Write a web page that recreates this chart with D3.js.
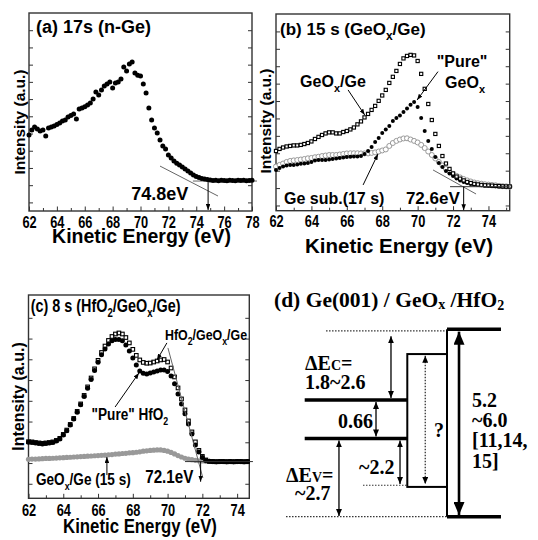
<!DOCTYPE html>
<html lang="en">
<head>
<meta charset="utf-8">
<style>
    body { margin: 0; background: #fff; }
    svg text { font-weight: bold; fill: #000; }
</style>
</head>
<body>
<svg width="538" height="540"></svg>
<script src="https://cdn.jsdelivr.net/npm/d3@7"></script>
<script>
// ---------- data ----------
// (a) 17 s, n-Ge
var energyA = [62.0,62.2,62.4,62.6,62.8,63.0,63.2,63.4,63.6,63.8,64.0,64.2,64.4,64.6,64.8,65.0,65.2,65.4,65.6,65.8,
    66.0,66.2,66.4,66.6,66.8,67.0,67.2,67.4,67.6,67.8,68.0,68.2,68.4,68.6,68.8,69.0,69.2,69.4,69.6,69.8,
    70.0,70.2,70.4,70.6,70.8,71.0,71.2,71.4,71.6,71.8,72.0,72.2,72.4,72.6,72.8,73.0,73.2,73.4,73.6,73.8,
    74.0,74.2,74.4,74.6,74.8,75.0,75.2,75.4,75.6,75.8,76.0,76.2,76.4,76.6,76.8,77.0,77.2,77.4,77.6,77.8,78.0];
var nGe = [3.91,4.20,4.38,4.26,4.15,4.20,3.86,4.32,4.38,4.44,
    4.52,4.61,4.73,4.79,4.96,5.05,5.13,4.84,5.42,5.48,
    5.56,5.66,5.77,6.01,6.41,6.24,6.53,6.76,6.88,6.99,
    6.64,6.93,6.99,7.17,7.86,7.63,8.04,8.15,7.51,7.39,
    7.34,6.88,6.35,5.48,4.79,4.32,4.03,3.62,3.28,3.10,
    2.75,2.58,2.40,2.28,2.17,2.05,1.94,1.82,1.70,1.59,
    1.50,1.45,1.39,1.36,1.33,1.30,1.27,1.29,1.26,1.28,
    1.27,1.25,1.28,1.27,1.26,1.28,1.27,1.29,1.26,1.27,1.28];

// (b) 15 s, GeOx/Ge
var energyB = [62.0,62.2,62.4,62.6,62.8,63.0,63.2,63.4,63.6,63.8,64.0,64.2,64.4,64.6,64.8,65.0,65.2,65.4,65.6,65.8,
    66.0,66.2,66.4,66.6,66.8,67.0,67.2,67.4,67.6,67.8,68.0,68.2,68.4,68.6,68.8,69.0,69.2,69.4,69.6,69.8,
    70.0,70.2,70.4,70.6,70.8,71.0,71.2,71.4,71.6,71.8,72.0,72.2,72.4,72.6,72.8,73.0,73.2,73.4,73.6,73.8,
    74.0,74.2,74.4,74.6,74.8,75.0,75.2];
var geoxGe = [3.13,3.25,3.33,3.39,3.42,3.45,3.45,3.48,3.53,3.59,
    3.68,3.82,3.94,4.05,4.14,4.20,4.20,4.14,4.14,4.22,
    4.28,4.37,4.48,4.66,4.83,5.06,5.26,5.49,5.72,6.01,
    6.32,6.64,7.04,7.39,7.73,8.13,8.45,8.59,8.65,8.62,
    8.30,7.56,6.70,5.83,4.91,4.11,3.42,2.84,2.41,2.10,
    1.84,1.66,1.54,1.44,1.35,1.29,1.24,1.21,1.18,1.16,
    1.15,1.14,1.12,1.11,1.10,1.09,1.09];
var pureGeox = [2.04,2.16,2.24,2.30,2.33,2.33,2.36,2.39,2.41,2.44,
    2.50,2.59,2.61,2.61,2.61,2.64,2.67,2.70,2.73,2.76,
    2.79,2.80,2.82,2.82,2.84,2.96,3.13,3.36,3.65,3.88,
    4.17,4.37,4.57,4.86,5.03,5.17,5.37,5.57,5.78,5.95,
    5.66,5.03,4.28,3.71,3.25,2.79,2.44,2.21,1.98,1.84,
    1.70,1.55,1.44,1.35,1.29,1.24,1.21,1.18,1.16,1.14,
    1.13,1.11,1.10,1.09,1.08,1.08,1.07];
var geSub = [2.24,2.33,2.41,2.50,2.56,2.59,2.61,2.64,2.67,2.71,
    2.73,2.77,2.80,2.84,2.87,2.90,2.90,2.90,2.93,2.96,
    2.99,3.00,3.00,3.00,2.99,2.99,2.99,3.02,3.05,3.10,
    3.16,3.22,3.42,3.59,3.71,3.79,3.85,3.86,3.79,3.71,
    3.62,3.48,3.30,3.10,2.90,2.70,2.50,2.30,2.10,1.95,
    1.81,1.70,1.61,1.52,1.44,1.38,1.32,1.28,1.25,1.22,
    1.20,1.18,1.16,1.13,1.11,1.10,1.08];

// (c) 8 s, HfO2/GeOx/Ge
var energyC = [62.0,62.2,62.4,62.6,62.8,63.0,63.2,63.4,63.6,63.8,64.0,64.2,64.4,64.6,64.8,65.0,65.2,65.4,65.6,65.8,
    66.0,66.2,66.4,66.6,66.8,67.0,67.2,67.4,67.6,67.8,68.0,68.2,68.4,68.6,68.8,69.0,69.2,69.4,69.6,69.8,
    70.0,70.2,70.4,70.6,70.8,71.0,71.2,71.4,71.6,71.8,72.0,72.2,72.4,72.6,72.8,73.0,73.2,73.4,73.6,73.8,
    74.0,74.2,74.4,74.6];
var hfoStack = [2.03,2.02,1.99,1.97,1.95,1.97,1.99,2.02,2.09,2.19,
    2.38,2.59,2.86,3.15,3.49,3.85,4.26,4.67,5.10,5.54,
    5.95,6.33,6.64,6.91,7.10,7.22,7.27,7.22,7.05,6.79,
    6.48,6.19,5.97,5.85,5.81,5.82,5.87,5.92,5.97,5.99,
    5.87,5.58,5.15,4.62,4.09,3.56,3.03,2.50,2.02,1.61,
    1.32,1.15,1.08,1.07,1.06,1.07,1.07,1.06,1.07,1.06,
    1.07,1.07,1.06,1.07];
var pureHfo = [2.00,1.99,1.96,1.94,1.92,1.94,1.96,1.99,2.06,2.16,
    2.35,2.56,2.83,3.12,3.45,3.81,4.21,4.61,5.03,5.46,
    5.86,6.22,6.50,6.74,6.89,6.96,6.96,6.89,6.69,6.40,
    6.06,5.73,5.44,5.33,5.29,5.34,5.39,5.44,5.49,5.49,
    5.41,5.20,4.82,4.33,3.85,3.37,2.88,2.40,1.87,1.53,
    1.27,1.12,1.08,1.07,1.06,1.07,1.07,1.06,1.07,1.06,
    1.07,1.07,1.06,1.07];
var geoxGe15 = [1.18,1.19,1.19,1.20,1.21,1.22,1.22,1.23,1.24,1.25,
    1.26,1.27,1.28,1.29,1.30,1.31,1.32,1.33,1.34,1.35,
    1.36,1.37,1.38,1.40,1.41,1.43,1.44,1.46,1.47,1.49,
    1.50,1.52,1.54,1.57,1.59,1.61,1.62,1.63,1.63,1.61,
    1.57,1.51,1.44,1.36,1.29,1.23,1.19,1.16,1.13,1.11,
    1.10,1.08,1.08,1.07,1.07,1.07,1.07,1.07,1.07,1.07,
    1.07,1.07,1.07,1.07];

// ticks
var xTicksA = [62, 64, 66, 68, 70, 72, 74, 76, 78];
var xMinorA = [63, 65, 67, 69, 71, 73, 75, 77];
var xTicksB = [62, 64, 66, 68, 70, 72, 74];
var xMinorB = [63, 65, 67, 69, 71, 73, 75];
var xTicksC = [62, 64, 66, 68, 70, 72, 74];
var xMinorC = [63, 65, 67, 69, 71, 73];
var yTicksA = [0, 1, 2, 3, 4, 5, 6, 7, 8, 9, 10];
var yTicksB = [0, 1, 2, 3, 4, 5, 6, 7, 8, 9, 10];
var yTicksC = [0, 1, 2, 3, 4, 5, 6, 7, 8];

// (d) band alignment, schematic energies (eV above HfO2 valence band)
var layerX = [0, 1, 1.387, 1.913];     // Ge | GeOx | HfO2 | end
var geCB = 3.49, geVB = 2.34, geoxCB = 4.86, geoxVB = 0.89, hfoCB = 5.6, hfoVB = 0;

// ---------- drawing ----------
var SANS = '"Liberation Sans", Arial, Helvetica, sans-serif';
var SERIF = '"Liberation Serif", "Times New Roman", serif';
var NARROW = 0.8;   // horizontal squeeze used for the condensed lettering

var svg = d3.select("svg");
svg.append("rect").attr("width", 538).attr("height", 540).attr("fill", "#fff");
var defs = svg.append("defs");

function addMarker(id, len, wid) {
    defs.append("marker")
        .attr("id", id)
        .attr("viewBox", "0 " + (-wid / 2) + " " + len + " " + wid)
        .attr("refX", len).attr("refY", 0)
        .attr("markerUnits", "userSpaceOnUse")
        .attr("markerWidth", len).attr("markerHeight", wid)
        .attr("orient", "auto-start-reverse")
        .append("path")
        .attr("d", "M0," + (-wid / 2) + "L" + len + ",0L0," + (wid / 2) + "Z")
        .attr("fill", "#000");
}
addMarker("hd", 6, 4.5);
addMarker("hdD", 7, 6);
addMarker("hdBig", 13, 11);

// text with sub-scripts: parts are strings or {t, fs, d}
function rich(g, x, y, parts, font, size, anchor, squeeze) {
    var t = g.append("text")
        .attr("transform", "translate(" + x + "," + y + ") scale(" + (squeeze || 1) + ",1)")
        .attr("text-anchor", anchor || "start")
        .style("font-family", font).style("font-size", size + "px");
    var shift = 0;
    parts.forEach(function (p) {
        var s = typeof p === "string" ? {t: p} : p;
        var d = s.d || 0;
        var ts = t.append("tspan").attr("dy", d - shift).text(s.t);
        if (s.fs) ts.style("font-size", s.fs + "px");
        shift = d;
    });
    return t;
}

function bare(a) {
    a.select(".domain").remove();
    a.selectAll("text").remove();
}

function makePanel(o) {
    var g = svg.append("g");
    var x = d3.scaleLinear().domain(o.xDomain).range([o.left, o.right]);
    var y = d3.scaleLinear().domain(o.yDomain).range([o.bottom, o.top]);

    g.append("g").attr("transform", "translate(0," + o.bottom + ")").attr("color", "#333")
        .call(d3.axisBottom(x).tickValues(o.xMinor).tickSize(-3))
        .call(bare);
    g.append("g").attr("transform", "translate(0," + o.bottom + ")").attr("color", "#333")
        .call(d3.axisBottom(x).tickValues(o.xTicks).tickSize(-4.5).tickPadding(o.labelPad).tickFormat(d3.format("d")))
        .call(function (a) {
            a.select(".domain").remove();
            a.selectAll("text").attr("transform", "scale(0.8,1)")
                .style("font-family", SANS).style("font-size", o.tickSize + "px");
        });
    g.append("g").attr("transform", "translate(" + o.left + ",0)").attr("color", "#333")
        .call(d3.axisLeft(y).tickValues(o.yTicks).tickSize(-4))
        .call(bare);
    g.append("g").attr("transform", "translate(" + o.right + ",0)").attr("color", "#333")
        .call(d3.axisRight(y).tickValues(o.yTicks).tickSize(-4))
        .call(bare);

    g.append("rect")
        .attr("x", o.left).attr("y", o.top)
        .attr("width", o.right - o.left).attr("height", o.bottom - o.top)
        .attr("fill", "none").attr("stroke", "#333").attr("stroke-width", 1.4);

    rich(g, o.titleX, o.titleY, ["Kinetic Energy (eV)"], SANS, o.titleSize, "middle", o.squeeze);
    g.append("text")
        .attr("transform", "translate(" + o.yTitleX + "," + o.yTitleY + ") rotate(-90)")
        .attr("text-anchor", "middle")
        .style("font-family", SANS).style("font-size", o.yTitleSize + "px")
        .text("Intensity (a.u.)");
    return {g: g, x: x, y: y, squeeze: o.squeeze};
}

function scatter(P, energies, values, st) {
    var pts = values.map(function (v, i) { return {e: energies[i], v: v}; });
    var sel = P.g.append("g").selectAll(null).data(pts);
    if (st.shape === "square") {
        sel.join("rect")
            .attr("x", function (d) { return P.x(d.e) - st.size / 2; })
            .attr("y", function (d) { return P.y(d.v) - st.size / 2; })
            .attr("width", st.size).attr("height", st.size)
            .attr("fill", st.fill).attr("stroke", st.stroke).attr("stroke-width", st.sw);
    } else {
        sel.join("circle")
            .attr("cx", function (d) { return P.x(d.e); })
            .attr("cy", function (d) { return P.y(d.v); })
            .attr("r", st.r)
            .attr("fill", st.fill).attr("stroke", st.stroke || "none").attr("stroke-width", st.sw || 0);
    }
}

function seg(P, a, b, st) {
    var l = P.g.append("line")
        .attr("x1", P.x(a[0])).attr("y1", P.y(a[1]))
        .attr("x2", P.x(b[0])).attr("y2", P.y(b[1]))
        .attr("stroke", st.color || "#000").attr("stroke-width", st.w || 1);
    if (st.arrow) l.attr("marker-end", "url(#hd)");
    return l;
}

function label(P, at, parts, size, anchor) {
    return rich(P.g, P.x(at[0]), P.y(at[1]), parts, SANS, size, anchor, P.squeeze);
}

// ----- panel (a)
var A = makePanel({
    xDomain: [62, 78], yDomain: [-0.5, 11], left: 29, right: 252, top: 13, bottom: 211,
    xTicks: xTicksA, xMinor: xMinorA, yTicks: yTicksA, tickSize: 16, labelPad: 5.5,
    squeeze: 1, titleX: 141.5, titleY: 243, titleSize: 19.5, yTitleX: 24.5, yTitleY: 122, yTitleSize: 15.5
});
seg(A, [71.4, 2.11], [75.56, 0.37], {color: "#666", w: 1});
seg(A, [73.76, 1.24], [78.36, 1.24], {color: "#666", w: 1});
scatter(A, energyA, nGe, {shape: "circle", r: 2.5, fill: "#000"});
seg(A, [74.85, 1.24], [74.85, -0.44], {w: 1, arrow: true});
label(A, [62.5, 9.84], ["(a) 17s (n-Ge)"], 18);
label(A, [73.43, 0.14], ["74.8eV"], 18, "end");

// ----- panel (b)
var B = makePanel({
    xDomain: [62, 75.2], yDomain: [-0.3, 11], left: 276, right: 509.7, top: 14, bottom: 210.7,
    xTicks: xTicksB, xMinor: xMinorB, yTicks: yTicksB, tickSize: 16, labelPad: 4.5,
    squeeze: 1, titleX: 399, titleY: 253, titleSize: 20.5, yTitleX: 271, yTitleY: 121, yTitleSize: 15.5
});
scatter(B, energyB, geSub, {shape: "circle", r: 2.5, fill: "#fff", stroke: "#999", sw: 1});
scatter(B, energyB, pureGeox, {shape: "circle", r: 2, fill: "#000"});
scatter(B, energyB, geoxGe, {shape: "square", size: 3.2, fill: "#fff", stroke: "#000", sw: 1.1});
seg(B, [70.87, 2.04], [73.30, 0.66], {color: "#666", w: 1});
seg(B, [71.83, 1.08], [75.2, 1.08], {color: "#333", w: 1});
seg(B, [72.6, 1.08], [72.6, -0.27], {w: 1, arrow: true});
seg(B, [66.07, 6.64], [67.01, 5.20], {w: 1, arrow: true});
seg(B, [71.15, 7.69], [69.97, 6.06], {w: 1, arrow: true});
seg(B, [66.92, 1.18], [67.76, 2.96], {w: 1, arrow: true});
label(B, [62.23, 9.80], ["(b) 15 s (GeO", {t: "x", fs: 12, d: 5}, "/Ge)"], 17);
label(B, [63.36, 6.79], ["GeO", {t: "x", fs: 11, d: 5}, "/Ge"], 16);
label(B, [72.51, 7.98], ["\"Pure\""], 16, "middle");
label(B, [71.55, 6.74], ["GeO", {t: "x", fs: 11, d: 5}], 16);
label(B, [62.45, 0.09], ["Ge sub.(17 s)"], 16);
label(B, [72.38, 0.09], ["72.6eV"], 17, "end");

// ----- panel (c)
var C = makePanel({
    xDomain: [62, 74.7], yDomain: [-0.7, 9.1], left: 28.5, right: 249.3, top: 295, bottom: 498.3,
    xTicks: xTicksC, xMinor: xMinorC, yTicks: yTicksC, tickSize: 16, labelPad: 6,
    squeeze: NARROW, titleX: 140, titleY: 533, titleSize: 21, yTitleX: 23.5, yTitleY: 396.5, yTitleSize: 16
});
scatter(C, energyC, geoxGe15, {shape: "circle", r: 2.6, fill: "#999"});
scatter(C, energyC, pureHfo, {shape: "circle", r: 2.5, fill: "#000"});
scatter(C, energyC, hfoStack, {shape: "square", size: 3.6, fill: "none", stroke: "#000", sw: 1.1});
seg(C, [70.02, 6.55], [72.03, 0.28], {color: "#666", w: 1});
seg(C, [71.0, 1.07], [74.91, 1.07], {color: "#333", w: 1});
seg(C, [71.9, 1.07], [71.9, 0.10], {w: 1, arrow: true});
seg(C, [69.96, 6.79], [69.39, 5.97], {w: 1, arrow: true});
seg(C, [66.98, 3.70], [68.35, 5.34], {w: 1, arrow: true});
seg(C, [66.51, 0.42], [66.51, 1.29], {w: 1, arrow: true});
label(C, [62.13, 8.30], ["(c) 8 s (HfO", {t: "2", fs: 12, d: 5}, "/GeO", {t: "x", fs: 12, d: 5}, "/Ge)"], 18);
label(C, [69.85, 6.93], ["HfO", {t: "2", fs: 11, d: 5}, "/GeO", {t: "x", fs: 11, d: 5}, "/Ge"], 15.5);
label(C, [65.63, 3.08], ["\"Pure\" HfO", {t: "2", fs: 11, d: 5}], 17);
label(C, [62.43, -0.06], ["GeO", {t: "x", fs: 11, d: 5}, "/Ge (15 s)"], 17);
label(C, [71.48, 0.02], ["72.1eV"], 19, "end");

// ----- panel (d): band diagram
var D = svg.append("g");
var xD = d3.scaleLinear().domain([0, 1]).range([304.7, 407.3]);
var yD = d3.scaleLinear().domain([0, 5.6]).range([516.7, 329.3]);

function dLine(x1, e1, x2, e2, w, dash) {
    var l = D.append("line")
        .attr("x1", xD(x1)).attr("y1", yD(e1)).attr("x2", xD(x2)).attr("y2", yD(e2))
        .attr("stroke", "#000").attr("stroke-width", w);
    if (dash) l.attr("stroke-dasharray", dash).attr("stroke", "#333");
    return l;
}
function dArrow(xv, e1, e2, w, mk, dash) {
    return dLine(xv, e1, xv, e2, w, dash)
        .attr("marker-start", "url(#" + mk + ")").attr("marker-end", "url(#" + mk + ")");
}

// dotted reference levels
dLine(0.208, hfoCB - 0.05, layerX[2], hfoCB - 0.05, 1.2, "1.5,1.5");
dLine(-0.182, hfoVB, layerX[2], hfoVB, 1.2, "1.5,1.5");
dLine(0.568, geoxVB + 0.05, layerX[1], geoxVB + 0.05, 1.2, "1.5,1.5");
// Ge bands
dLine(layerX[0], geCB, layerX[1], geCB, 3.5);
dLine(layerX[0], geVB, layerX[1], geVB, 3.5);
// GeOx box
D.append("rect")
    .attr("x", xD(layerX[1])).attr("y", yD(geoxCB))
    .attr("width", xD(layerX[2]) - xD(layerX[1])).attr("height", yD(geoxVB) - yD(geoxCB))
    .attr("fill", "none").attr("stroke", "#000").attr("stroke-width", 2);
// HfO2
dLine(layerX[2], hfoCB, layerX[2], hfoVB, 2);
dLine(layerX[2], hfoCB, layerX[3], hfoCB, 3.5);
dLine(layerX[2], hfoVB, layerX[3], hfoVB, 3.5);
// offsets
dArrow(0.841, hfoCB - 0.21, geCB + 0.06, 1.3, "hdD");
dArrow(0.695, geCB - 0.06, geVB + 0.06, 1.3, "hdD");
dArrow(0.334, geVB - 0.06, hfoVB + 0.02, 1.3, "hdD");
dArrow(0.929, geVB - 0.06, geoxVB + 0.09, 1.3, "hdD");
dArrow(1.175, geoxCB - 0.05, geoxVB + 0.09, 1.3, "hdD", "1.5,1.5");
dArrow(1.504, hfoCB - 0.07, hfoVB + 0.05, 2.6, "hdBig");

rich(D, 274, 306.7, ["(d) Ge(001) / GeO", {t: "x", fs: 14, d: 2}, " /HfO", {t: "2", fs: 14, d: 3}], SERIF, 21.5);
rich(D, 305, 370, ["\u0394E", {t: "C", fs: 14}, "="], SERIF, 20);
rich(D, 305, 388.5, ["1.8~2.6"], SERIF, 20);
rich(D, 338, 428, ["0.66"], SERIF, 20);
rich(D, 434, 437, ["?"], SERIF, 20);
rich(D, 286, 482, ["\u0394E", {t: "V", fs: 14}, "="], SERIF, 20);
rich(D, 295, 500, ["~2.7"], SERIF, 20);
rich(D, 359, 473.5, ["~2.2"], SERIF, 20);
rich(D, 472, 406.5, ["5.2"], SERIF, 20);
rich(D, 472, 426.5, ["~6.0"], SERIF, 20);
rich(D, 472, 446.5, ["[11,14,"], SERIF, 20);
rich(D, 472, 468, ["15]"], SERIF, 20);
</script>
</body>
</html>
